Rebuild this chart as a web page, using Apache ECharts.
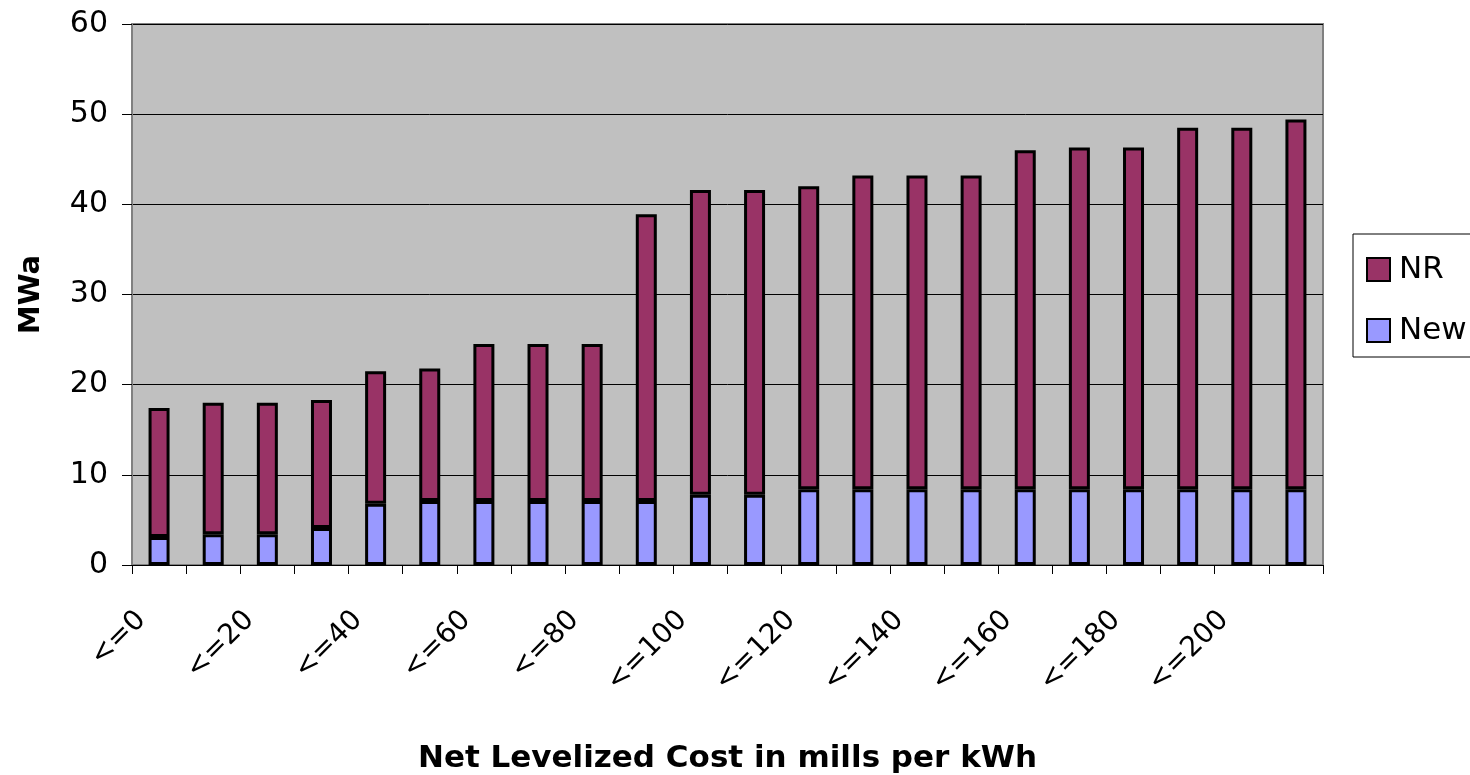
<!DOCTYPE html>
<html>
<head>
<meta charset="utf-8">
<script src="https://cdn.jsdelivr.net/npm/echarts@6/dist/echarts.min.js"></script>
<style>
html,body{margin:0;padding:0;background:#fff;}
#chart{width:1470px;height:775px;}
</style>
</head>
<body>
<div id="chart"></div>
<script>
var categories = ['<=0','<=10','<=20','<=30','<=40','<=50','<=60','<=70','<=80','<=90','<=100','<=110','<=120','<=130','<=140','<=150','<=160','<=170','<=180','<=190','<=200','<=210'];
var newValues = [3.1, 3.4, 3.4, 4.1, 6.8, 7.1, 7.1, 7.1, 7.1, 7.1, 7.8, 7.8, 8.4, 8.4, 8.4, 8.4, 8.4, 8.4, 8.4, 8.4, 8.4, 8.4];
var nrValues = [14.3, 14.6, 14.6, 14.2, 14.7, 14.7, 17.4, 17.4, 17.4, 31.8, 33.8, 33.8, 33.6, 34.8, 34.8, 34.8, 37.6, 37.9, 37.9, 40.1, 40.1, 41.0];
var yTicks = [0, 10, 20, 30, 40, 50, 60];
var seriesNames = ['NR', 'New'];

var FONT = '"DejaVu Sans", sans-serif';
var chart = echarts.init(document.getElementById('chart'), null, {renderer: 'canvas'});
chart.setOption({
  animation: false,
  textStyle: {fontFamily: FONT, color: '#000'},
  grid: {
    left: 132, right: 147, top: 24, bottom: 210,
    outerBoundsMode: 'none',
    containLabel: false,
    show: true, backgroundColor: '#C0C0C0', borderColor: '#808080', borderWidth: 2
  },
  legend: {
    data: seriesNames,
    orient: 'vertical',
    left: 1353, top: 234,
    padding: [20, 40, 11, 13],
    itemGap: 30,
    itemWidth: 23, itemHeight: 23,
    backgroundColor: '#fff',
    borderColor: '#000', borderWidth: 1,
    textStyle: {fontFamily: FONT, fontSize: 31, color: '#000', padding: [0, 0, 0, 4]},
    icon: 'rect'
  },
  xAxis: {
    type: 'category',
    data: categories,
    name: 'Net Levelized Cost in mills per kWh',
    nameLocation: 'middle',
    nameGap: 178,
    nameTextStyle: {fontFamily: FONT, fontSize: 31, fontWeight: 'bold', color: '#000'},
    axisLine: {lineStyle: {color: '#000', width: 1}},
    axisTick: {show: true, interval: 0, length: 9, lineStyle: {color: '#000'}},
    axisLabel: {interval: 1, rotate: 45, fontSize: 28, color: '#000', margin: 33, padding: [0, 25, 0, 0], fontFamily: FONT}
  },
  yAxis: {
    type: 'value',
    min: yTicks[0], max: yTicks[yTicks.length - 1], interval: 10,
    name: 'MWa',
    nameLocation: 'middle',
    nameRotate: 90,
    nameGap: 86,
    nameTextStyle: {fontFamily: FONT, fontSize: 29, fontWeight: 'bold', color: '#000'},
    axisLine: {show: true, lineStyle: {color: '#808080', width: 2}},
    axisTick: {show: true, length: 10, lineStyle: {color: '#000'}},
    axisLabel: {fontSize: 30, color: '#000', margin: 24, fontFamily: FONT},
    splitLine: {show: true, lineStyle: {color: '#000', width: 1}}
  },
  series: [
    {
      name: 'New', type: 'bar', stack: 'total', data: newValues,
      barWidth: 21,
      itemStyle: {color: '#9999FF', borderColor: '#000', borderWidth: 3}
    },
    {
      name: 'NR', type: 'bar', stack: 'total', data: nrValues,
      barWidth: 21,
      itemStyle: {color: '#993366', borderColor: '#000', borderWidth: 3}
    }
  ]
});
</script>
</body>
</html>
